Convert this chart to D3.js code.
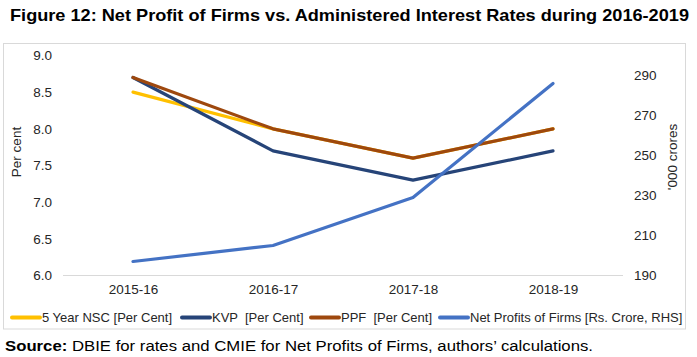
<!DOCTYPE html>
<html><head><meta charset="utf-8">
<script src="https://cdn.jsdelivr.net/npm/d3@7"></script>
<style>
body{margin:0;background:#fff;}
svg text{font-family:"Liberation Sans",Arial,sans-serif;}
</style></head>
<body><svg id="c" width="697" height="357"></svg>
<script>
const categories = ["2015-16","2016-17","2017-18","2018-19"];
const nsc = [8.5, 8.0, 7.6, 8.0];
const kvp = [8.7, 7.7, 7.3, 7.7];
const ppf = [8.7, 8.0, 7.6, 8.0];
const netProfits = [197, 205, 229, 286];
const leftTicks = [6.0, 6.5, 7.0, 7.5, 8.0, 8.5, 9.0];
const rightTicks = [190, 210, 230, 250, 270, 290];
const seriesNames = ["5 Year NSC [Per Cent]", "KVP  [Per Cent]", "PPF  [Per Cent]", "Net Profits of Firms [Rs. Crore, RHS]"];

const svg = d3.select("#c");
const colors = ["#FFC000", "#264478", "#9E480E", "#4472C4"];
const txt = "#262626";
const L = 63, R = 623, T = 55.5, B = 275.5;

svg.append("text").attr("x", 10).attr("y", 20.5).attr("font-size", 16.5).attr("font-weight", "bold")
  .attr("fill", "#000").attr("textLength", 679).attr("lengthAdjust", "spacingAndGlyphs")
  .text("Figure 12: Net Profit of Firms vs. Administered Interest Rates during 2016-2019");

svg.append("rect").attr("x", 3.5).attr("y", 43.5).attr("width", 682).attr("height", 285.5)
  .attr("fill", "none").attr("stroke", "#d9d9d9");

const x = d3.scalePoint().domain(categories).range([L, R]).padding(0.5);
const yL = d3.scaleLinear().domain([6, 9]).range([B, T]);
const yR = d3.scaleLinear().domain([190, 300]).range([B, T]);

svg.append("line").attr("x1", L).attr("x2", R).attr("y1", B).attr("y2", B).attr("stroke", "#d9d9d9");

const ax = svg.append("g").attr("transform", `translate(0,${B})`)
  .call(d3.axisBottom(x).tickSize(0).tickPadding(9));
const ayl = svg.append("g").attr("transform", `translate(${L},0)`)
  .call(d3.axisLeft(yL).tickValues(leftTicks).tickFormat(d3.format(".1f")).tickSize(0).tickPadding(11));
const ayr = svg.append("g").attr("transform", `translate(${R},0)`)
  .call(d3.axisRight(yR).tickValues(rightTicks).tickSize(0).tickPadding(11));
[ax, ayl, ayr].forEach(g => {
  g.select(".domain").remove();
  g.selectAll("text").attr("font-size", 13.5).attr("fill", txt).style("font-family", '"Liberation Sans",Arial,sans-serif');
});

svg.append("text").attr("transform", "translate(21,152) rotate(-90)").attr("text-anchor", "middle")
  .attr("font-size", 13.5).attr("fill", txt).text("Per cent");
svg.append("text").attr("transform", "translate(677,157) rotate(-90)").attr("text-anchor", "middle")
  .attr("font-size", 13.5).attr("fill", txt).text("'000 crores");

const lineL = d3.line().x((d, i) => x(categories[i])).y(d => yL(d));
const lineR = d3.line().x((d, i) => x(categories[i])).y(d => yR(d));
const data = [[nsc, lineL], [kvp, lineL], [ppf, lineL], [netProfits, lineR]];
data.forEach(([vals, gen], i) => {
  svg.append("path").attr("d", gen(vals)).attr("fill", "none").attr("stroke", colors[i])
    .attr("stroke-width", 3.2).attr("stroke-linejoin", "round").attr("stroke-linecap", "round");
});

const legX = [10, 180, 309, 438];
const lg = svg.append("g");
seriesNames.forEach((n, i) => {
  lg.append("line").attr("x1", legX[i] + 2).attr("x2", legX[i] + 30).attr("y1", 317.5).attr("y2", 317.5)
    .attr("stroke", colors[i]).attr("stroke-width", 4).attr("stroke-linecap", "round");
  lg.append("text").attr("x", legX[i] + 32).attr("y", 322).attr("font-size", 13).attr("fill", txt)
    .style("white-space", "pre").attr("xml:space", "preserve").text(n);
});

const src = svg.append("text").attr("x", 5).attr("y", 350.5).attr("font-size", 15.5).attr("fill", "#000")
  .attr("textLength", 588).attr("lengthAdjust", "spacingAndGlyphs");
src.append("tspan").attr("font-weight", "bold").text("Source:");
src.append("tspan").text(" DBIE for rates and CMIE for Net Profits of Firms, authors\u2019 calculations.");
</script></body></html>
